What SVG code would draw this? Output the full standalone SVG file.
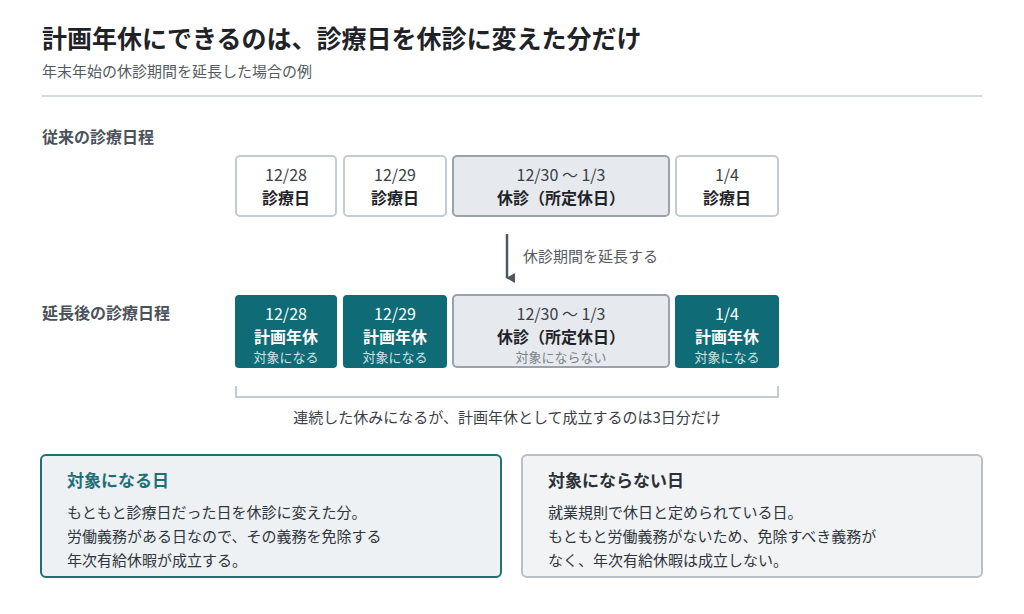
<svg xmlns="http://www.w3.org/2000/svg" width="1024" height="614" viewBox="0 0 1024 614">
<style>
text{font-family:"Noto Sans CJK JP","Noto Sans",sans-serif}
.t{font-size:25px;font-weight:700;fill:#1f2328}
.sub{font-size:15px;fill:#555b62}
.sec{font-size:16px;font-weight:700;fill:#4a5159}
.d{font-size:16px;fill:#3a4048;text-anchor:middle}
.b{font-size:16px;font-weight:700;fill:#1f2328;text-anchor:middle}
.dw{font-size:16px;fill:#fff;text-anchor:middle}
.bw{font-size:16px;font-weight:700;fill:#fff;text-anchor:middle}
.sw{font-size:13px;fill:#cfe3e6;text-anchor:middle}
.sg{font-size:13px;fill:#7a828a;text-anchor:middle}
.w{fill:#fff;stroke:#c3ccd4;stroke-width:2}
.g{fill:#e6eaee;stroke:#9aa2aa;stroke-width:2}
.tl{fill:#0f6b75}
.body{font-size:15px;fill:#2f353c}
</style>
<defs><marker id="ah" markerWidth="10" markerHeight="10" refX="5" refY="8" orient="auto" markerUnits="userSpaceOnUse"><path d="M0,0 L10,0 L5,9 Z" fill="#4f5760"/></marker></defs>
<text class="t" x="42" y="48">計画年休にできるのは、診療日を休診に変えた分だけ</text>
<text class="sub" x="42" y="77">年末年始の休診期間を延長した場合の例</text>
<line x1="42" y1="96" x2="982" y2="96" stroke="#d5dadf" stroke-width="2"/>
<text class="sec" x="42" y="143">従来の診療日程</text>
<text class="sec" x="42" y="319">延長後の診療日程</text>
<g id="a1"><rect class="w" x="236" y="156" width="100" height="60" rx="4"/><text class="d" x="286" y="181">12/28</text><text class="b" x="286" y="204">診療日</text></g>
<g id="a2"><rect class="w" x="344" y="156" width="102" height="60" rx="4"/><text class="d" x="395" y="181">12/29</text><text class="b" x="395" y="204">診療日</text></g>
<g id="a3"><rect class="g" x="453" y="156" width="216" height="60" rx="4"/><text class="d" x="561" y="181">12/30 〜 1/3</text><text class="b" x="561" y="204">休診（所定休日）</text></g>
<g id="a4"><rect class="w" x="676" y="156" width="102" height="60" rx="4"/><text class="d" x="727" y="181">1/4</text><text class="b" x="727" y="204">診療日</text></g>
<g id="connectors"><line x1="507" y1="234" x2="507" y2="278" stroke="#4f5760" stroke-width="2.5" marker-end="url(#ah)"/>
<path d="M236,386 V397 H778 V386" fill="none" stroke="#c3ccd4" stroke-width="2"/></g>
<text x="523" y="262" style="font-size:15px;fill:#555b62">休診期間を延長する</text>
<g id="b1"><rect class="tl" x="235" y="295" width="102" height="73" rx="4"/><text class="dw" x="286" y="320">12/28</text><text class="bw" x="286" y="343">計画年休</text><text class="sw" x="286" y="362">対象になる</text></g>
<g id="b2"><rect class="tl" x="343" y="295" width="104" height="73" rx="4"/><text class="dw" x="395" y="320">12/29</text><text class="bw" x="395" y="343">計画年休</text><text class="sw" x="395" y="362">対象になる</text></g>
<g id="b3"><rect class="g" x="453" y="295" width="216" height="72" rx="4"/><text class="d" x="561" y="320">12/30 〜 1/3</text><text class="b" x="561" y="343">休診（所定休日）</text><text class="sg" x="561" y="362">対象にならない</text></g>
<g id="b4"><rect class="tl" x="675" y="295" width="104" height="73" rx="4"/><text class="dw" x="727" y="320">1/4</text><text class="bw" x="727" y="343">計画年休</text><text class="sw" x="727" y="362">対象になる</text></g>
<text x="507" y="423" style="font-size:15px;fill:#3a4048;text-anchor:middle">連続した休みになるが、計画年休として成立するのは3日分だけ</text>
<g id="c1"><rect x="41" y="455" width="460" height="122" rx="5" fill="#edf1f4" stroke="#1d6f78" stroke-width="2"/>
<text x="67" y="487" style="font-size:17px;font-weight:700;fill:#1d6f78">対象になる日</text>
<text class="body" x="67" y="518">もともと診療日だった日を休診に変えた分。</text>
<text class="body" x="67" y="542">労働義務がある日なので、その義務を免除する</text>
<text class="body" x="67" y="566">年次有給休暇が成立する。</text></g>
<g id="c2"><rect x="522" y="455" width="460" height="122" rx="5" fill="#f1f3f5" stroke="#b9c0c7" stroke-width="2"/>
<text x="548" y="487" style="font-size:17px;font-weight:700;fill:#2a3037">対象にならない日</text>
<text class="body" x="548" y="518">就業規則で休日と定められている日。</text>
<text class="body" x="548" y="542">もともと労働義務がないため、免除すべき義務が</text>
<text class="body" x="548" y="566">なく、年次有給休暇は成立しない。</text></g>
</svg>
